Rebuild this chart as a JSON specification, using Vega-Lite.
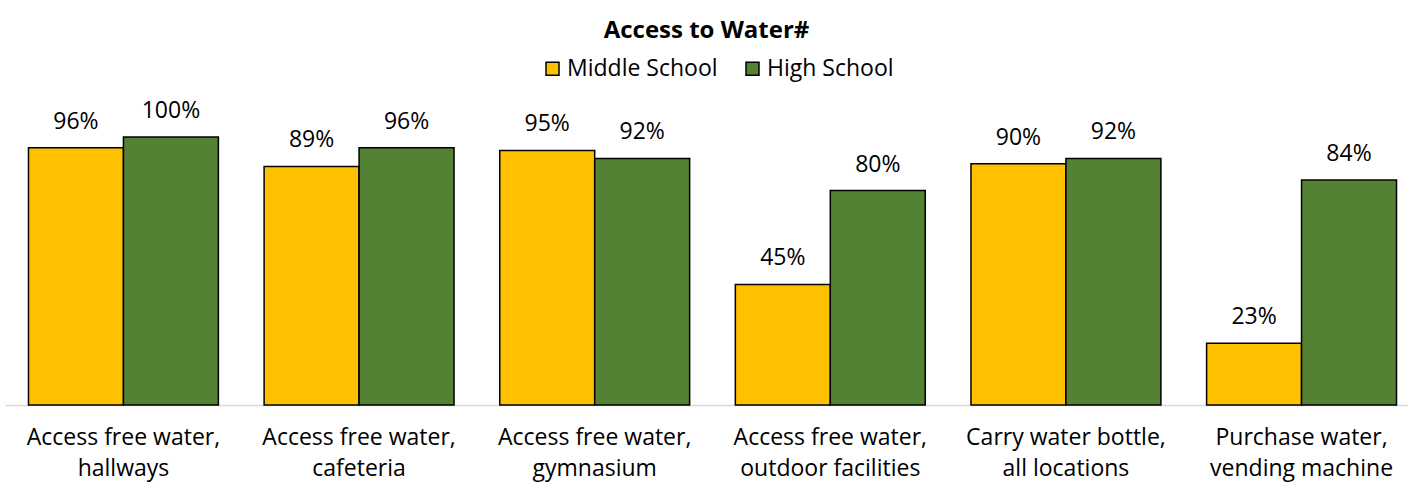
{
  "$schema": "https://vega.github.io/schema/vega-lite/v6.json",
  "width": 1403,
  "height": 268,
  "autosize": {"type": "none"},
  "padding": {"left": 5, "top": 137, "right": 0, "bottom": 80},
  "background": "white",
  "config": {"view": {"stroke": null}, "font": "Open Sans"},
  "title": {"text": "Access to Water#", "anchor": "middle", "fontSize": 24, "fontWeight": "bold", "font": "Open Sans", "color": "#000000", "offset": 14},
  "data": {"values": [
    {"cat": "Access free water, hallways", "school": "Middle School", "v": 0.96},
    {"cat": "Access free water, hallways", "school": "High School", "v": 1.0},
    {"cat": "Access free water, cafeteria", "school": "Middle School", "v": 0.89},
    {"cat": "Access free water, cafeteria", "school": "High School", "v": 0.96},
    {"cat": "Access free water, gymnasium", "school": "Middle School", "v": 0.95},
    {"cat": "Access free water, gymnasium", "school": "High School", "v": 0.92},
    {"cat": "Access free water, outdoor facilities", "school": "Middle School", "v": 0.45},
    {"cat": "Access free water, outdoor facilities", "school": "High School", "v": 0.80},
    {"cat": "Carry water bottle, all locations", "school": "Middle School", "v": 0.90},
    {"cat": "Carry water bottle, all locations", "school": "High School", "v": 0.92},
    {"cat": "Purchase water, vending machine", "school": "Middle School", "v": 0.23},
    {"cat": "Purchase water, vending machine", "school": "High School", "v": 0.84}
  ]},
  "encoding": {
    "x": {"field": "cat", "type": "nominal", "sort": null, "title": null,
      "scale": {"range": [0, 1415], "paddingInner": 0.194, "paddingOuter": 0.0997},
      "axis": {"labelAngle": 0, "ticks": false, "domainColor": "#d9d9d9", "domainWidth": 1.5, "labelFontSize": 23, "labelColor": "#000000", "labelPadding": 21, "labelLineHeight": 31, "labelFont": "Open Sans", "labelLimit": 0,
        "labelExpr": "[split(datum.label, ', ')[0] + ',', split(datum.label, ', ')[1]]"}},
    "xOffset": {"field": "school", "type": "nominal", "sort": ["Middle School", "High School"], "scale": {"paddingInner": 0, "paddingOuter": 0}},
    "y": {"field": "v", "type": "quantitative", "scale": {"domain": [0, 1], "nice": false}, "axis": null}
  },
  "layer": [
    {"mark": {"type": "bar", "stroke": "#000000", "strokeWidth": 1.5},
      "encoding": {"color": {"field": "school", "type": "nominal", "sort": ["Middle School", "High School"],
        "scale": {"domain": ["Middle School", "High School"], "range": ["#FFC000", "#548235"]},
        "legend": {"title": null, "orient": "none", "legendX": 536, "legendY": -80, "padding": 0, "direction": "horizontal", "symbolType": "square", "symbolSize": 169, "symbolStrokeColor": "#000000", "symbolStrokeWidth": 1.5, "labelFontSize": 23, "labelColor": "#000000", "labelFont": "Open Sans", "columnPadding": 23, "labelOffset": 3}}}},
    {"mark": {"type": "text", "dy": -26, "fontSize": 23, "color": "#000000", "font": "Open Sans"},
      "encoding": {"text": {"field": "v", "type": "quantitative", "format": ".0%"}, "detail": {"field": "school"}}}
  ]
}
